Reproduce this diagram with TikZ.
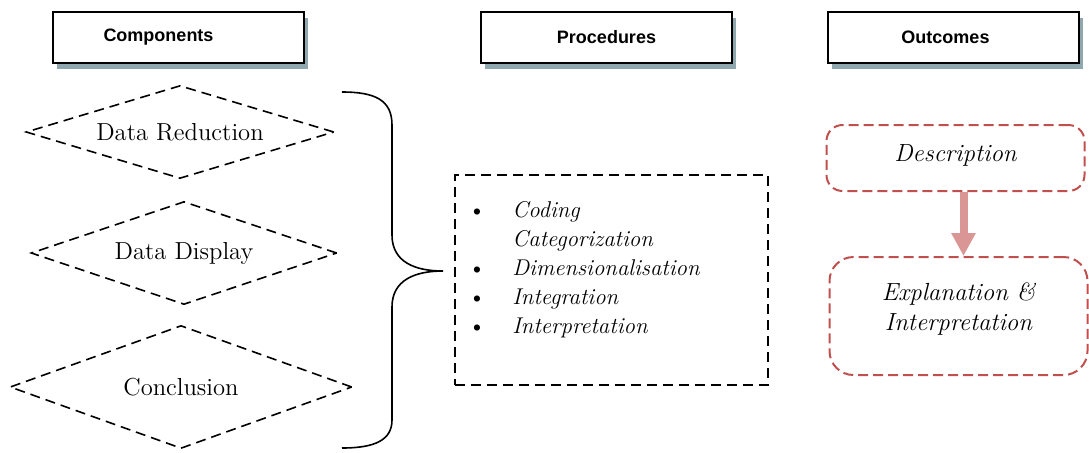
\documentclass[tikz,border=0pt]{standalone}
\usepackage{fontspec}
\newfontfamily\headfont{Liberation Sans}
\usetikzlibrary{shapes.geometric,shadows,arrows.meta}
\definecolor{shadowc}{HTML}{8FA7AE}
\definecolor{outred}{HTML}{C0504D}
\definecolor{arrowpink}{HTML}{D99694}
\newcommand{\itm}{\makebox[22pt][l]{\upshape\textbullet}}

\begin{document}
\begin{tikzpicture}[x=0.5pt,y=-0.5pt,
header/.style = {draw, line width=0.8pt, fill=white, minimum width=125.5pt, minimum height=25.5pt, inner sep=0pt, font=\headfont\bfseries\fontsize{9}{11}\selectfont, general shadow={fill=shadowc, shadow xshift=2pt, shadow yshift=-3pt}},
comp/.style = {draw, diamond, aspect=3.3, line width=0.8pt, dash pattern=on 5pt off 3pt, inner sep=0pt, font=\fontsize{12.3}{14}\selectfont},
procbox/.style = {draw, line width=1pt, dash pattern=on 5pt off 3pt, minimum width=156.5pt, minimum height=105pt},
outbox/.style = {draw=outred, line width=1pt, dash pattern=on 5pt off 2.5pt, rounded corners=8pt, font=\itshape\fontsize{12.4}{15}\selectfont, align=center, minimum width=129pt}]
\useasboundingbox (0,0) rectangle (1089,452);
\node[header] (comp) at (178.5,37.5) {Components\hspace*{20pt}};
\node[header] (proc) [right of=comp, node distance=214pt] {Procedures};
\node[header] (out) [right of=proc, node distance=173.5pt] {Outcomes\hspace*{8pt}};
\node[comp, minimum width=154pt, minimum height=46.5pt] (red) at (180,132) {Data Reduction};
\node[comp, minimum width=153pt, minimum height=51.5pt] (disp) [below of=red, node distance=60.5pt, xshift=2pt] {Data Display};
\node[comp, minimum width=171pt, minimum height=61.5pt] (concl) [below of=disp, node distance=67pt, xshift=-1.5pt] {Conclusion};
\coordinate (btop) at (342,92);
\coordinate (btip) at (443,271);
\coordinate (bbot) at (342,448);
\draw[line width=0.8pt] (btop) .. controls (375,92) and (392,100) .. (392,125) -- (392,235)
  .. controls (392,262) and (415,271) .. (btip)
  .. controls (415,271) and (392,280) .. (392,307) -- (392,420)
  .. controls (392,440) and (375,448) .. (bbot);
\node[procbox] (box) at (611.5,280) {};
\node[anchor=west, inner sep=0pt, align=left, font=\itshape\fontsize{11.4}{14.5}\selectfont] (steps) at (468,270)
  {\itm Coding\\ \hspace*{22pt}Categorization\\ \itm Dimensionalisation\\ \itm Integration\\ \itm Interpretation};
\node[outbox, minimum height=33pt, text height=8.5pt, text depth=5.5pt] (desc) at (955.5,158) {Description};
\node[outbox, minimum height=59pt, rounded corners=12pt, text depth=9pt] (expl) [below of=desc, node distance=79pt, xshift=1.5pt] {Explanation \&\\ Interpretation};
\draw[arrowpink, line width=4pt, -{Triangle[width=11.5pt,length=11.5pt]}] ([xshift=4pt]desc.south) -- ([xshift=4pt]desc.south |- expl.north);
\end{tikzpicture}
\end{document}
